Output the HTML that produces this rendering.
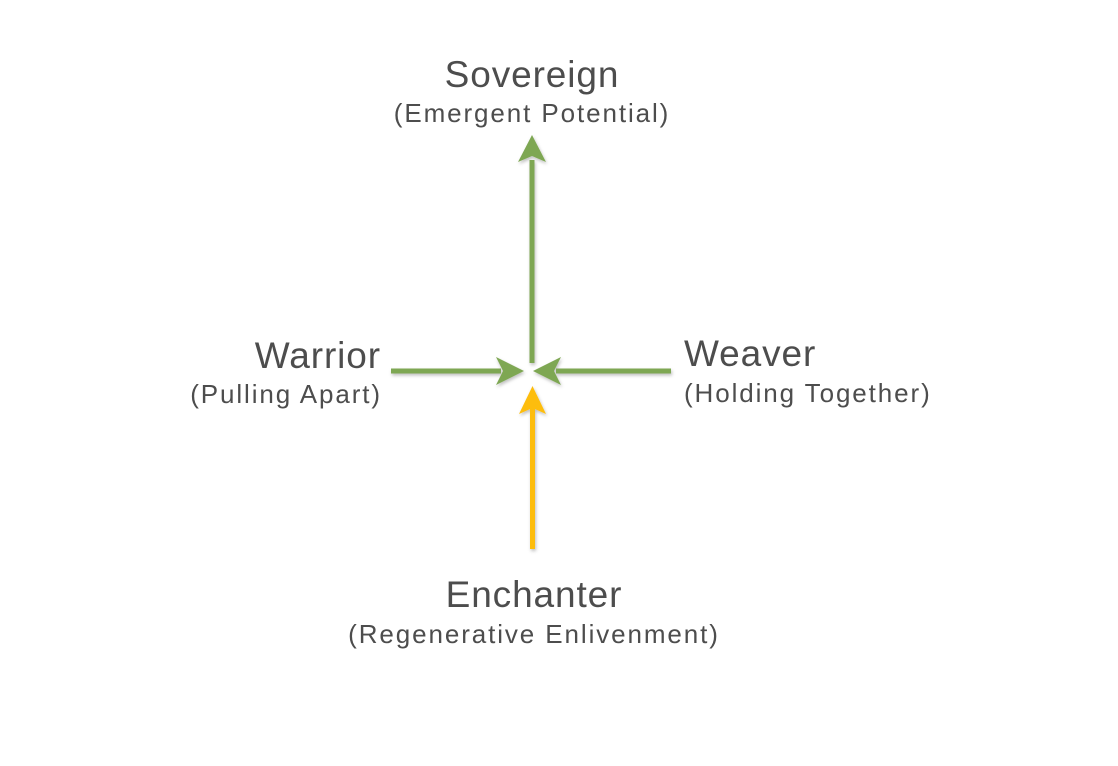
<!DOCTYPE html>
<html><head><style>
body{margin:0;width:1118px;height:766px;background:#fff;overflow:hidden;font-family:"Liberation Sans",sans-serif;color:#4d4d4d}
.t{position:absolute;white-space:nowrap;line-height:1}
.b{font-size:37px;letter-spacing:0.9px}.s{font-size:26px;letter-spacing:1.9px}
</style></head><body>
<svg width="1118" height="766" style="position:absolute;left:0;top:0">
<defs><filter id="sh"><feDropShadow dx="1" dy="2" stdDeviation="1.5" flood-opacity="0.25"/></filter></defs>
<g filter="url(#sh)">
<rect x="529.5" y="160" width="5" height="203" fill="#7ea753"/>
<polygon points="532,135 546,162 532,156 518,162" fill="#7ea753"/>
<rect x="391" y="368.5" width="110" height="5" fill="#7ea753"/>
<polygon points="524,371 496,357 503,371 496,385" fill="#7ea753"/>
<rect x="556" y="368.5" width="115" height="5" fill="#7ea753"/>
<polygon points="533,371 561,357 554,371 561,385" fill="#7ea753"/>
<rect x="530" y="408" width="5" height="141" fill="#fdbd10"/>
<polygon points="532.5,386 546,414 532.5,408 519,414" fill="#fdbd10"/>
</g>
</svg>
<div class="t b" style="left:0;width:1064px;text-align:center;top:56px">Sovereign</div>
<div class="t s" style="left:0;width:1064px;text-align:center;top:100px">(Emergent Potential)</div>
<div class="t b" style="right:737px;top:337px">Warrior</div>
<div class="t s" style="right:736px;top:381px">(Pulling Apart)</div>
<div class="t b" style="left:684px;top:335px">Weaver</div>
<div class="t s" style="left:684px;top:380px">(Holding Together)</div>
<div class="t b" style="left:0;width:1068px;text-align:center;top:576px">Enchanter</div>
<div class="t s" style="left:0;width:1068px;text-align:center;top:621px">(Regenerative Enlivenment)</div>
</body></html>
